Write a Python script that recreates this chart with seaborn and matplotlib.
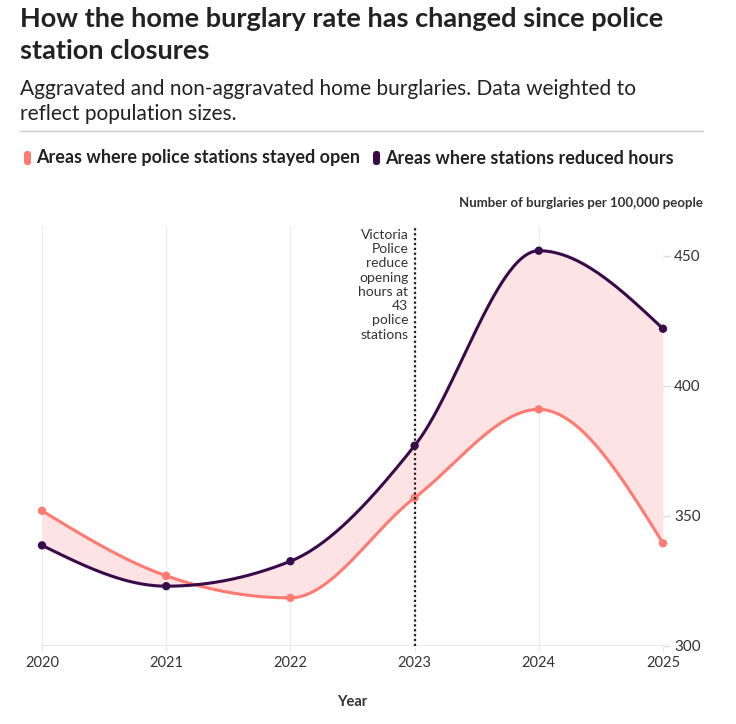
import numpy as np
import pandas as pd
import matplotlib
matplotlib.use("Agg")
import matplotlib.pyplot as plt
from matplotlib.patches import FancyBboxPatch
import seaborn as sns

years = [2020, 2021, 2022, 2023, 2024, 2025]
stayed_open = [352, 327, 318.5, 357, 391, 339.5]
reduced_hours = [338.7, 323, 332.6, 377, 452, 422]
series_names = ["Areas where police stations stayed open", "Areas where stations reduced hours"]
y_ticks = [300, 350, 400, 450]

C_OPEN = "#ff7a70"
C_RED = "#380a4a"
C_FILL = "#fde3e4"

sns.set_theme(style="white")
plt.rcParams['font.family'] = ['Lato', 'DejaVu Sans']


def monotone_x(x, y, n=60):
    x = np.asarray(x, float); y = np.asarray(y, float)
    m = len(x)
    h = np.diff(x); s = np.diff(y) / h
    t = np.zeros(m)
    for i in range(1, m - 1):
        h0, h1, s0, s1 = h[i-1], h[i], s[i-1], s[i]
        p = (s0 * h1 + s1 * h0) / (h0 + h1)
        t[i] = (np.sign(s0) + np.sign(s1)) * min(abs(s0), abs(s1), 0.5 * abs(p))
    t[0] = (3 * s[0] - t[1]) / 2
    t[-1] = (3 * s[-1] - t[-2]) / 2
    xs, ys = [], []
    for i in range(m - 1):
        u = np.linspace(0, 1, n, endpoint=(i == m - 2))
        dx = h[i]
        h00 = 2*u**3 - 3*u**2 + 1; h10 = u**3 - 2*u**2 + u
        h01 = -2*u**3 + 3*u**2; h11 = u**3 - u**2
        xs.append(x[i] + u * dx)
        ys.append(h00*y[i] + h10*dx*t[i] + h01*y[i+1] + h11*dx*t[i+1])
    return np.concatenate(xs), np.concatenate(ys)


fig = plt.figure(figsize=(7.36, 7.24), dpi=100)
ax = fig.add_axes([42/736, 1 - 646/724, (663 - 42)/736, (646 - 226)/724])

xo, yo = monotone_x(years, stayed_open)
xr, yr = monotone_x(years, reduced_hours)
ax.fill_between(xo, yo, yr, color=C_FILL, lw=0, zorder=1)

for yr_ in years:
    ax.axvline(yr_, color="#ececec", lw=1, zorder=0)
ax.axhline(300, color="#e6e6e6", lw=1.2, zorder=0)

ax.plot(xo, yo, color=C_OPEN, lw=2.2, zorder=3)
ax.plot(xr, yr, color=C_RED, lw=2.2, zorder=3)

df = pd.DataFrame({"Year": years * 2,
                   "value": stayed_open + reduced_hours,
                   "series": [series_names[0]] * 6 + [series_names[1]] * 6})
sns.scatterplot(data=df, x="Year", y="value", hue="series",
                palette={series_names[0]: C_OPEN, series_names[1]: C_RED},
                s=36, edgecolor="none", legend=False, ax=ax, zorder=4, clip_on=False)

ax.axvline(2023, color="#222222", lw=1.6, ls=(0, (1, 1.2)), zorder=5)
ax.text(2022.95, 460.5, "Victoria\nPolice\nreduce\nopening\nhours at\n43\npolice\nstations",
        ha="right", va="top", fontsize=10, color="#333333", linespacing=1.23)

ax.set_xlim(2020, 2025)
ax.set_ylim(300, 461.5)
ax.set_xticks(years)
ax.set_xticklabels([str(v) for v in years], fontsize=10.5, color="#333333")
ax.yaxis.tick_right()
ax.set_yticks(y_ticks)
ax.set_yticklabels([str(v) for v in y_ticks], fontsize=11, color="#333333")
ax.tick_params(axis='y', length=5, width=1, color="#dddddd", pad=3, right=True)
ax.tick_params(axis='x', length=4, width=1, color="#ececec", pad=3, bottom=True)
for sp in ax.spines.values():
    sp.set_visible(False)
ax.set_xlabel("Year", fontsize=10.5, fontweight="bold", color="#333333", labelpad=18)
ax.set_ylabel("")
ax.patch.set_alpha(0)

# Titles
fig.text(20/736, 1 - 7/724, "How the home burglary rate has changed since police\nstation closures",
         ha="left", va="top", fontsize=19.5, fontweight="bold", color="#222222", linespacing=1.38)
fig.text(20/736, 1 - 79/724, "Aggravated and non-aggravated home burglaries. Data weighted to\nreflect population sizes.",
         ha="left", va="top", fontsize=15, color="#222222", linespacing=1.3)
fig.add_artist(plt.Line2D([20/736, 703/736], [1 - 131/724, 1 - 131/724], color="#cccccc", lw=1))

# Legend
for xm, col, name in [(24, C_OPEN, series_names[0]), (373, C_RED, series_names[1])]:
    fig.add_artist(FancyBboxPatch((xm/736, 1 - 165/724), 7/736, 14/724,
                                  boxstyle="round,pad=0,rounding_size=0.004",
                                  transform=fig.transFigure, color=col, lw=0))
    fig.text((xm + 12)/736, 1 - 158/724, name, ha="left", va="center", fontsize=13,
             fontweight="bold", color="#222222")

fig.text(703/736, 1 - 203/724, "Number of burglaries per 100,000 people", ha="right", va="center",
         fontsize=9.5, fontweight="bold", color="#333333")

fig.savefig("out.png", dpi=100)
